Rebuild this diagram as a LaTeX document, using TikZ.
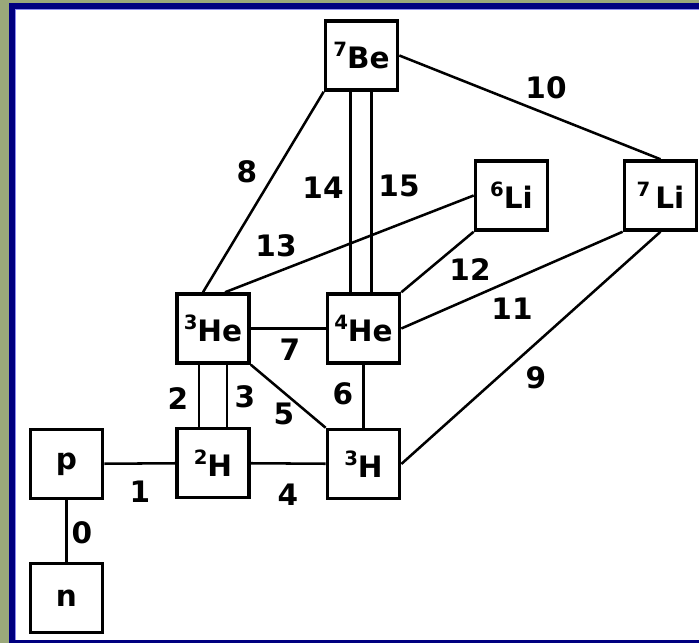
\documentclass[tikz,border=0pt]{standalone}
\usepackage{fontspec}
\setmainfont{DejaVu Sans}
\definecolor{framegreen}{RGB}{154,168,122}
\definecolor{framenavy}{RGB}{0,0,128}
\definecolor{framelight}{RGB}{140,140,240}
\newcommand{\isot}[2]{\raisebox{0.4em}{\fontsize{14}{14}\selectfont #1}#2}
\begin{document}
\begin{tikzpicture}[x=0.025cm, y=-0.025cm,
  box/.style={draw, line width=2.6pt, minimum width=1.8cm, minimum height=1.72cm, inner sep=0pt, font=\fontsize{21}{24}\selectfont\bfseries},
  lab/.style={font=\fontsize{21}{24}\selectfont\bfseries, inner sep=0pt},
  link/.style={line width=1.8pt}]
\useasboundingbox (0,0) rectangle (699,643);
% frame
\fill[framegreen] (0,0) rectangle (699,643);
\fill[framenavy] (9,3) rectangle (699,643);
\fill[white] (15,9) rectangle (699,640);
\draw[framelight, line width=0.7pt] (15.5,640) -- (15.5,9.5) -- (699,9.5);
% nuclei
\node[box] (Be7) at (361.5,55.5) {\isot{7}{Be}};
\node[box] (Li6) at (511.5,195.5) {\isot{6}{Li}};
\node[box] (Li7) at (660.5,195.5) {\isot{7}{\,Li}};
\node[box] (He3) at (213,328.5) {\isot{3}{He}};
\node[box] (He4) at (363.5,328.5) {\isot{4}{He}};
\node[box] (H2) at (213,463) {\isot{2}{H}};
\node[box] (H3) at (363.5,464) {\isot{3}{H}};
\node[box] (p) at (66.5,464) {p};
\node[box] (n) at (66.5,598) {n};
% reactions
\draw[link] (p) -- (n);
\draw[link] (p) -- (H2);
\draw[link] ([xshift=-0.35cm]He3.south) -- ([xshift=-0.35cm]H2.north);
\draw[link] ([xshift=0.35cm]He3.south) -- ([xshift=0.35cm]H2.north);
\draw[link] (H2) -- (H3);
\draw[link] (He3.south east) -- (H3.north west);
\draw[link] (He4) -- (H3);
\draw[link] (He3) -- (He4);
\draw[link] ([xshift=-0.25cm]He3.north) -- (Be7.south west);
\draw[link] (H3.east) -- (Li7.south);
\draw[link] (Be7.east) -- (Li7.north);
\draw[link] (He4.east) -- (Li7.south west);
\draw[link] (He4.north east) -- (Li6.south west);
\draw[link] ([xshift=0.3cm]He3.north) -- (Li6.west);
\draw[link] ([xshift=-0.28cm]Be7.south) -- ([xshift=-0.28cm]Be7.south |- He4.north);
\draw[link] ([xshift=0.25cm]Be7.south) -- ([xshift=0.25cm]Be7.south |- He4.north);
% labels
\node[lab] (l0) at (82,533) {0};
\node[lab] (l1) at (140,492) {1};
\node[lab] (l2) at (178,399) {2};
\node[lab] (l3) at (245,397) {3};
\node[lab] (l4) at (288,495) {4};
\node[lab] (l5) at (284,414) {5};
\node[lab] (l6) at (343,394) {6};
\node[lab] (l7) at (290,350) {7};
\node[lab] (l8) at (247,172) {8};
\node[lab] (l9) at (536,378) {9};
\node[lab] (l10) at (546,88) {10};
\node[lab] (l11) at (512,309) {11};
\node[lab] (l12) at (470,270) {12};
\node[lab] (l13) at (276,246) {13};
\node[lab] (l14) at (323,188) {14};
\node[lab] (l15) at (399,186) {15};
\end{tikzpicture}
\end{document}
